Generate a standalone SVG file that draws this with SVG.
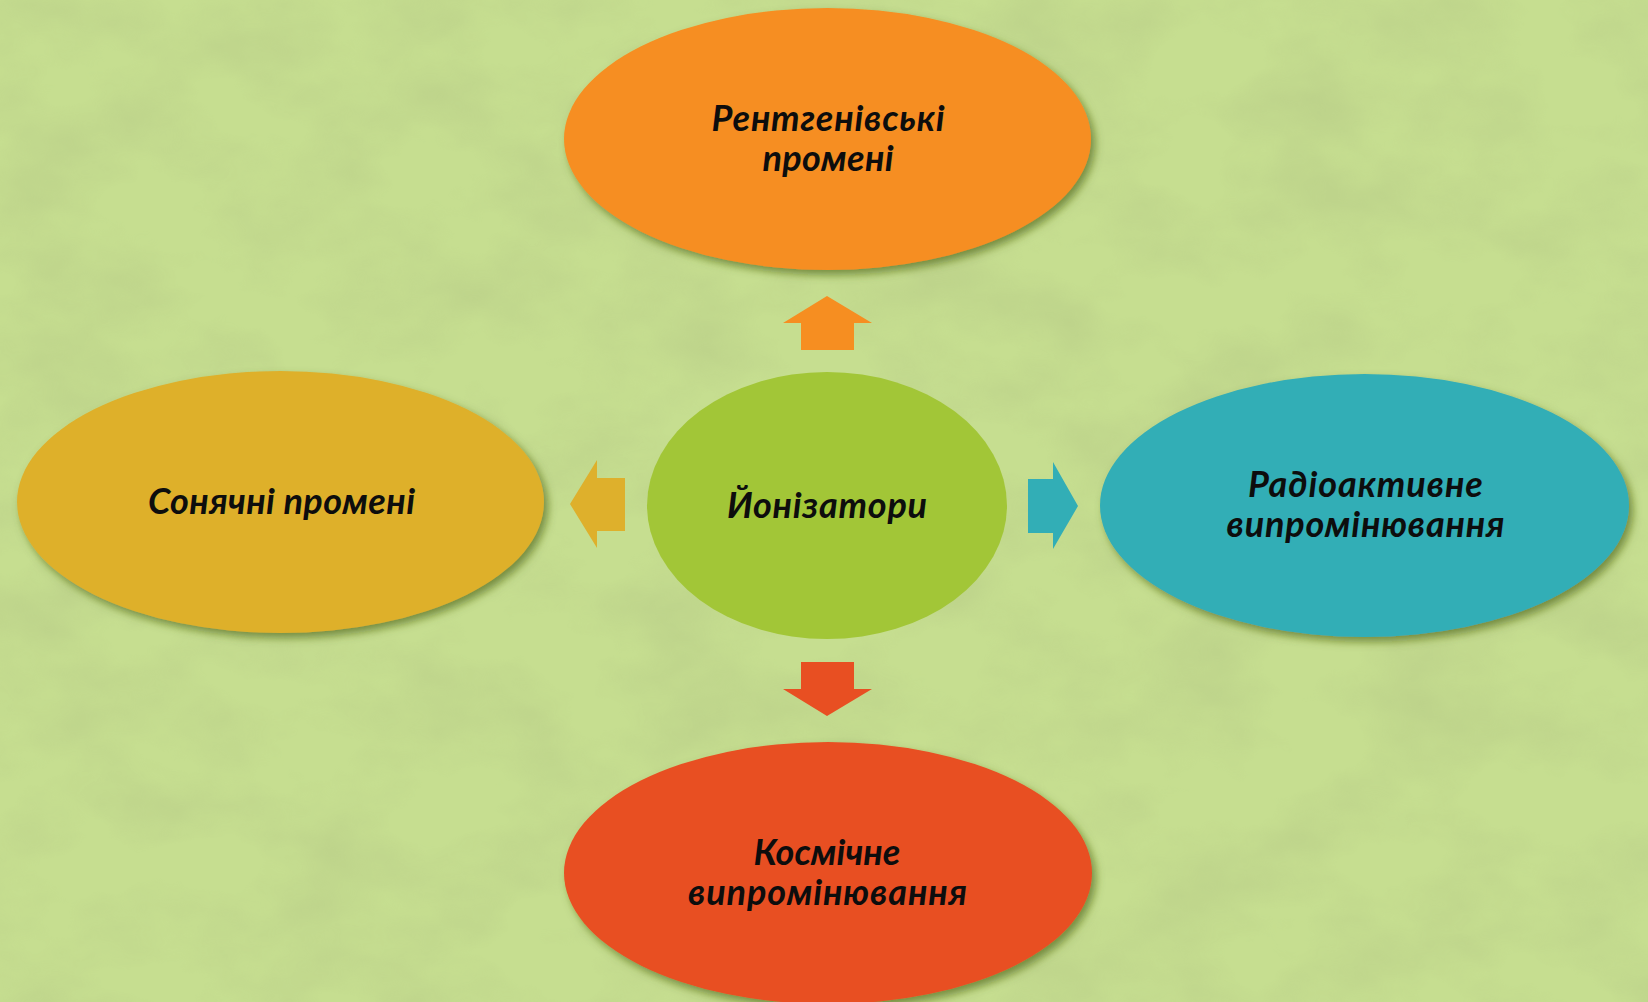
<svg xmlns="http://www.w3.org/2000/svg" width="1648" height="1002" viewBox="0 0 1648 1002">
  <defs>
    <filter id="tex" x="0" y="0" width="100%" height="100%">
      <feTurbulence type="fractalNoise" baseFrequency="0.008 0.012" numOctaves="4" seed="7"/>
      <feColorMatrix type="matrix" values="0 0 0 0 0.42  0 0 0 0 0.52  0 0 0 0 0.22  1.6 0 0 0 -0.62"/>
    </filter>
    <filter id="shadow" x="-10%" y="-10%" width="125%" height="130%">
      <feDropShadow dx="4" dy="5" stdDeviation="4" flood-color="#4d6318" flood-opacity="0.65"/>
    </filter>
    <style>
      .lbl { font-family: "Lato", "Open Sans", "Liberation Sans", sans-serif; font-weight: bold; font-style: italic; font-size: 36px; fill: #0d0d0d; text-anchor: middle; }
      .node ellipse.sh { filter: url(#shadow); }
    </style>
  </defs>

  <rect x="0" y="0" width="1648" height="1002" fill="#c6de90"/>
  <rect x="0" y="0" width="1648" height="1002" filter="url(#tex)" opacity="0.45"/>

  <g id="connectors">
    <polygon id="arrow-up" fill="#f68e21" points="827,296 872,323 854,323 854,350 801,350 801,323 783,323"/>
    <polygon id="arrow-down" fill="#e84f22" points="801,662 854,662 854,689 872,689 827,716 783,689 801,689"/>
    <polygon id="arrow-right" fill="#32aeb6" points="1028,479 1053,479 1053,462 1078,506 1053,549 1053,533 1028,533"/>
    <polygon id="arrow-left" fill="#deb02c" points="625,478 597,478 597,460 570,504 597,548 597,531 625,531"/>
  </g>

  <g id="node-top" class="node">
    <ellipse class="sh" cx="827.5" cy="139" rx="263.5" ry="131" fill="#f68e21"/>
    <text class="lbl" x="828" y="131" textLength="233">Рентгенівські</text>
    <text class="lbl" x="828" y="171" textLength="131">промені</text>
  </g>

  <g id="node-left" class="node">
    <ellipse class="sh" cx="280.5" cy="502" rx="263.5" ry="131" fill="#deb02c"/>
    <text class="lbl" x="281.5" y="514" textLength="267">Сонячні промені</text>
  </g>

  <g id="node-center" class="node">
    <ellipse cx="827" cy="505.5" rx="180" ry="133.5" fill="#a2c637"/>
    <text class="lbl" x="827" y="518" textLength="200">Йонізатори</text>
  </g>

  <g id="node-right" class="node">
    <ellipse class="sh" cx="1364.5" cy="505.5" rx="264.5" ry="131.5" fill="#32aeb6"/>
    <text class="lbl" x="1365.5" y="497" textLength="235">Радіоактивне</text>
    <text class="lbl" x="1365.5" y="537" textLength="278">випромінювання</text>
  </g>

  <g id="node-bottom" class="node">
    <ellipse class="sh" cx="828" cy="873" rx="264" ry="131" fill="#e84f22"/>
    <text class="lbl" x="827" y="865" textLength="147">Космічне</text>
    <text class="lbl" x="827.5" y="905" textLength="279">випромінювання</text>
  </g>
</svg>
